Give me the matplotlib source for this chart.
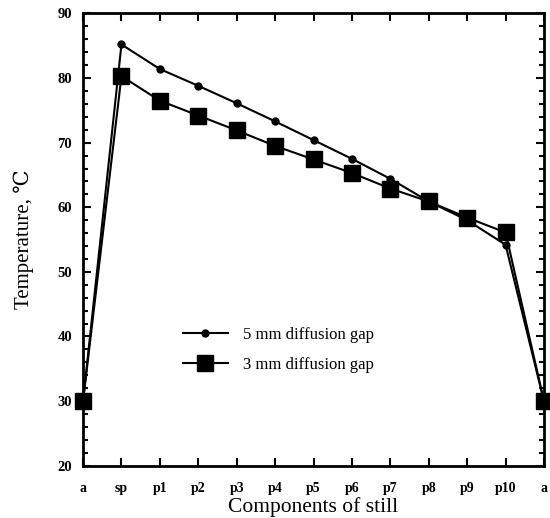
import matplotlib
matplotlib.use("Agg")
import matplotlib.pyplot as plt
from matplotlib.ticker import MultipleLocator

# components of the still (x categories)
components = ['a', 'sp', 'p1', 'p2', 'p3', 'p4', 'p5', 'p6', 'p7', 'p8', 'p9', 'p10', 'a']

# temperatures, deg C
temp_5mm = [30, 85.2, 81.4, 78.8, 76.1, 73.3, 70.4, 67.5, 64.4, 60.9, 58.0, 54.2, 30]
temp_3mm = [30, 80.3, 76.5, 74.2, 71.9, 69.5, 67.4, 65.3, 62.9, 60.9, 58.4, 56.1, 30]

serif = ['Liberation Serif', 'DejaVu Serif']
plt.rcParams['font.family'] = serif

fig = plt.figure(figsize=(5.5, 5.18), dpi=100)
ax = fig.add_axes([0.151, 0.101, 0.838, 0.873])

x = range(len(components))
ax.plot(x, temp_5mm, '-o', color='black', lw=1.5, ms=5,
        label='5 mm diffusion gap', clip_on=False, zorder=3)
ax.plot(x, temp_3mm, '-s', color='black', lw=1.5, ms=11,
        label='3 mm diffusion gap', clip_on=False, zorder=3)

ax.set_xlim(0, len(components) - 1)
ax.set_ylim(20, 90)
ax.set_xticks(list(x))
ax.set_xticklabels(components, fontweight='bold', fontsize=10)
ax.yaxis.set_major_locator(MultipleLocator(10))
ax.yaxis.set_minor_locator(MultipleLocator(2))
for lab in ax.get_yticklabels():
    lab.set_fontweight('bold')
    lab.set_fontsize(10.5)

ax.tick_params(which='both', direction='in', top=True, right=True, width=1.5)
ax.tick_params(which='major', length=6, pad=8)
ax.tick_params(axis='x', which='major', pad=12)
ax.tick_params(which='minor', length=3.5)
for s in ax.spines.values():
    s.set_linewidth(2)

ax.set_xlabel('Components of still', fontsize=15.5, labelpad=1)
ax.set_ylabel('Temperature, \u2103', fontsize=15, labelpad=17)

ax.legend(loc='upper left', bbox_to_anchor=(0.184, 0.34), frameon=False,
          fontsize=12, handlelength=2.7, labelspacing=0.85, handletextpad=0.9)

fig.savefig('out.png', dpi=100)
